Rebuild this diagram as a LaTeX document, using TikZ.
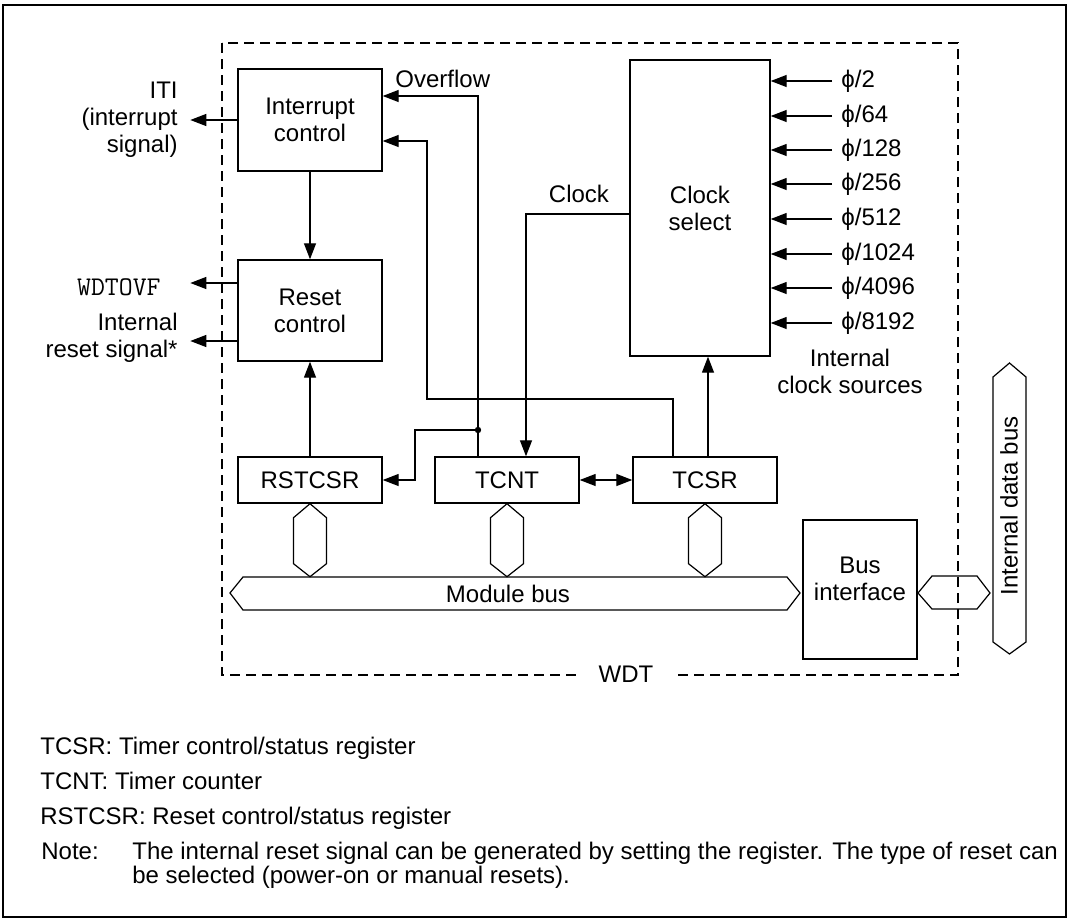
\documentclass[tikz,border=0pt]{standalone}
\usepackage{fontspec}
\setmainfont{Liberation Sans}
\usetikzlibrary{arrows.meta,calc}

\tikzset{
  blk/.style={draw,line width=0.7pt,align=center},
  sig/.style={-{Triangle[length=8pt,width=6pt]},line width=0.65pt},
  sigboth/.style={{Triangle[length=8pt,width=6pt]}-{Triangle[length=8pt,width=6pt]},line width=0.65pt},
  bus/.style={draw,line width=0.6pt},
  clkin/.style={anchor=west}
}

\begin{document}
\begin{tikzpicture}[x=0.5pt,y=-0.5pt,inner sep=0pt,font=\fontsize{12}{13.5}\selectfont]
  \useasboundingbox (0,0) rectangle (1072,921);
  \draw[line width=0.6pt] (3,5) rectangle (1066,917);
  \draw[dash pattern=on 5pt off 3pt,line width=0.6pt] (222,43) rectangle (958,675);
  \node[fill=white,inner xsep=10pt] (wdt) at (626,674) {WDT};

  \node[blk,minimum width=72pt,minimum height=51pt] (intc) at (310,120) {Interrupt\\control};
  \node[blk,minimum width=72pt,minimum height=50.5pt] (rstc) at (310,310.5) {Reset\\control};
  \node[blk,minimum width=70pt,minimum height=148pt] (clksel) at (700,208) {Clock\\select};
  \node[blk,minimum width=72pt,minimum height=23pt] (rstcsr) at (310,480) {RSTCSR};
  \node[blk,minimum width=72pt,minimum height=23pt] (tcnt) at (507,480) {TCNT};
  \node[blk,minimum width=72pt,minimum height=23pt] (tcsr) at (705,480) {TCSR};
  \node[blk,minimum width=57pt,minimum height=69.5pt] (busif) at (860,589.5) {};
  \node[align=center] (busiftext) at (860,579) {Bus\\interface};

  \node[anchor=east,align=right] (iti) at (178,120) {ITI\\(interrupt\\signal)};
  \node[anchor=base east,font=\ttfamily\fontsize{13.5}{14}\selectfont] (wdtovf) at (161,295) {WDTOVF};
  \node[anchor=east,align=right] (intrst) at (178,338) {Internal\\reset signal*};
  \draw[sig] (intc.west) -- ++(-47,0);
  \draw[sig] ([yshift=13.75pt]rstc.west) -- ++(-47,0);
  \draw[sig] ([yshift=-15.25pt]rstc.west) -- ++(-47,0);

  \draw[sig] (intc) -- (rstc);
  \draw[sig] (rstcsr) -- (rstc);

  \node[anchor=base west] (ovflab) at (395,87) {Overflow};
  \coordinate (ovf) at (478,430);
  \draw[sig] (tcnt.north -| ovf) |- ([yshift=12pt]intc.east);
  \fill (ovf) circle[radius=1.6pt];
  \draw[sig] (ovf) -- ++(-63,0) |- (rstcsr.east);
  \coordinate (bend) at (427,399);
  \draw[sig] ([xshift=-16pt]tcsr.north) |- (bend) |- ([yshift=-10.5pt]intc.east);

  \node[anchor=base] (clklab) at (579,202) {Clock};
  \draw[sig] ([yshift=-3pt]clksel.west) -| ([xshift=9.5pt]tcnt.north);
  \draw[sig] ([xshift=1.5pt]tcsr.north) -- ([xshift=1.5pt]tcsr.north |- clksel.south);
  \draw[sigboth] (tcnt.east) -- (tcsr.west);

  \node[clkin] (ck2) at (841,81) {ϕ/2};
  \node[clkin] (ck64) at (841,116) {ϕ/64};
  \node[clkin] (ck128) at (841,150) {ϕ/128};
  \node[clkin] (ck256) at (841,184) {ϕ/256};
  \node[clkin] (ck512) at (841,219) {ϕ/512};
  \node[clkin] (ck1024) at (841,254) {ϕ/1024};
  \node[clkin] (ck4096) at (841,288) {ϕ/4096};
  \node[clkin] (ck8192) at (841,323) {ϕ/8192};
  \draw[sig] ([xshift=-4.5pt]ck2.west) -- (ck2.west -| clksel.east);
  \draw[sig] ([xshift=-4.5pt]ck64.west) -- (ck64.west -| clksel.east);
  \draw[sig] ([xshift=-4.5pt]ck128.west) -- (ck128.west -| clksel.east);
  \draw[sig] ([xshift=-4.5pt]ck256.west) -- (ck256.west -| clksel.east);
  \draw[sig] ([xshift=-4.5pt]ck512.west) -- (ck512.west -| clksel.east);
  \draw[sig] ([xshift=-4.5pt]ck1024.west) -- (ck1024.west -| clksel.east);
  \draw[sig] ([xshift=-4.5pt]ck4096.west) -- (ck4096.west -| clksel.east);
  \draw[sig] ([xshift=-4.5pt]ck8192.west) -- (ck8192.west -| clksel.east);
  \node[align=center] (clksrc) at (850,371) {Internal\\clock sources};

  \draw[bus] (rstcsr.south) -- ++(16.5,14) -- ++(0,46) -- ++(-16.5,13) -- ++(-16.5,-13) -- ++(0,-46) -- cycle;
  \draw[bus] (tcnt.south) -- ++(16.5,14) -- ++(0,46) -- ++(-16.5,13) -- ++(-16.5,-13) -- ++(0,-46) -- cycle;
  \draw[bus] (tcsr.south) -- ++(16.5,14) -- ++(0,46) -- ++(-16.5,13) -- ++(-16.5,-13) -- ++(0,-46) -- cycle;
  \draw[bus] (230,593) -- (243,577) -- (787,577) -- (800,593) -- (787,610) -- (243,610) -- cycle;
  \node (modbus) at (508,594) {Module bus};
  \draw[bus] (918,593) -- (932,576) -- (977,576) -- (990,593) -- (977,609) -- (932,609) -- cycle;
  \draw[bus] (1009.5,363) -- (1026,377) -- (1026,642) -- (1009.5,654) -- (993,642) -- (993,377) -- cycle;
  \node[rotate=90] (databus) at (1009,506) {Internal data bus};

  \node[anchor=base west] (leg1) at (40,754) {TCSR: Timer control/status register};
  \node[anchor=base west] (leg2) at (40,789) {TCNT: Timer counter};
  \node[anchor=base west] (leg3) at (40,824) {RSTCSR: Reset control/status register};
  \node[anchor=base west] (note) at (41,859) {Note:};
  \node[anchor=base west] (note1) at (132,859) {The internal reset signal can be generated by setting the register. The type of reset can};
  \node[anchor=base west] (note2) at (132,883) {be selected (power-on or manual resets).};
\end{tikzpicture}
\end{document}
